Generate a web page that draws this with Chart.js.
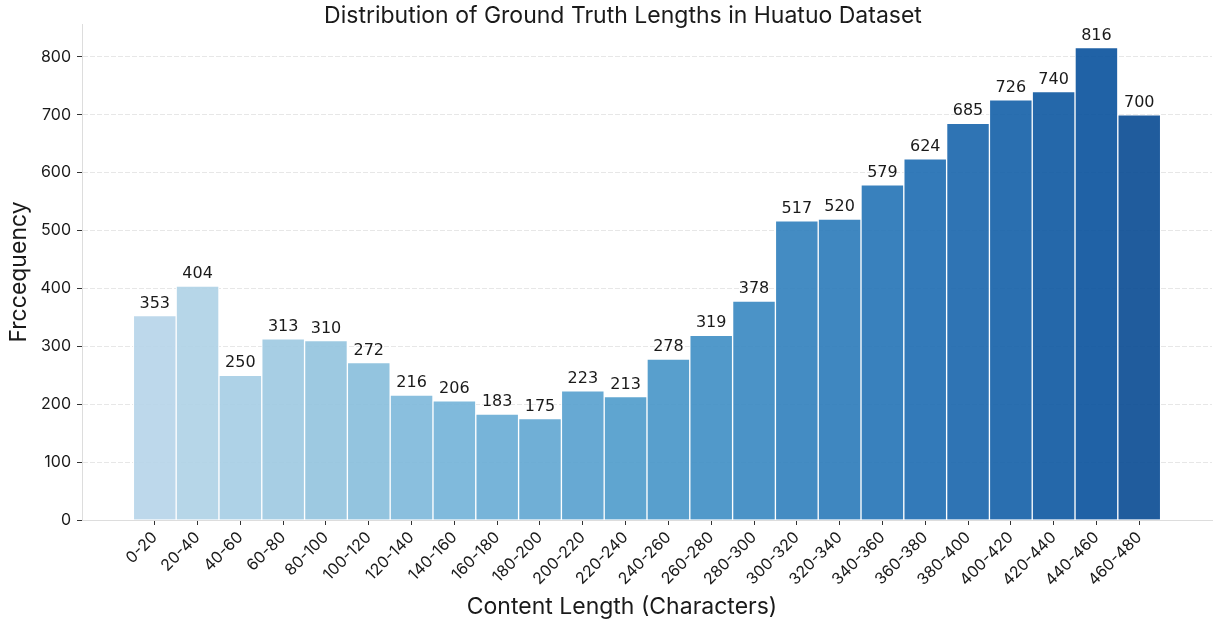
<!DOCTYPE html>
<html>
<head>
<meta charset="utf-8">
<script src="https://cdn.jsdelivr.net/npm/chart.js@4.4.1/dist/chart.umd.min.js"></script>
<style>
  html, body { margin:0; padding:0; background:#fff; }
</style>
</head>
<body>
<canvas id="chart" width="1214" height="625"></canvas>
<script>
/* Histograma de longitudes (Huatuo) */
const binLabels = ['0-20','20-40','40-60','60-80','80-100','100-120','120-140','140-160',
  '160-180','180-200','200-220','220-240','240-260','260-280','280-300','300-320',
  '320-340','340-360','360-380','380-400','400-420','420-440','440-460','460-480'];
const counts = [353,404,250,313,310,272,216,206,183,175,223,213,278,319,378,517,
  520,579,624,685,726,740,816,700];
const yTicks = [0,100,200,300,400,500,600,700,800];

const chartTitle = 'Distribution of Ground Truth Lengths in Huatuo Dataset';
const xTitle = 'Content Length (Characters)';
const yTitle = 'Frccequency';

// colormap "Blues" (anclas), muestreado de 0.3 a 0.9 con alpha 0.9
const bluesStops = [[247,251,255],[222,235,247],[198,219,239],[158,202,225],[107,174,214],
  [66,146,198],[33,113,181],[8,81,156],[8,48,107]];
const blues = (t)=>{
  const p = t*8, i = Math.min(7, Math.floor(p)), f = p - i;
  const a = bluesStops[i], b = bluesStops[i+1];
  const c = a.map((v,k)=> Math.round(v + (b[k]-v)*f));
  return `rgba(${c[0]},${c[1]},${c[2]},0.9)`;
};
const barColors = counts.map((_,i)=> blues(0.3 + 0.6*i/(counts.length-1)));

const textColor = '#1a1a1a';

const labelsPlugin = {
  id:'labels',
  afterDraw(chart){
    const {ctx} = chart;
    const meta = chart.getDatasetMeta(0);
    ctx.save();
    ctx.fillStyle = textColor;
    ctx.font = '16px "DejaVu Sans"';
    ctx.textAlign = 'center';
    ctx.textBaseline = 'alphabetic';
    meta.data.forEach((bar,i)=> ctx.fillText(String(counts[i]), bar.x, bar.y - 8));
    // título y eje x centrados como en la figura
    ctx.font = '23px Inter';
    ctx.textBaseline = 'middle';
    ctx.fillText(chartTitle, 623, 16);
    ctx.fillText(xTitle, 622, 607);
    ctx.restore();
  }
};

new Chart(document.getElementById('chart'), {
  type:'bar',
  data:{
    datasets:[{
      data: counts.map((v,i)=> ({x:i, y:v})),
      backgroundColor: barColors,
      borderColor:'#ffffff',
      borderWidth:1,
      borderSkipped:'bottom',
      barPercentage:1,
      categoryPercentage:1
    }]
  },
  options:{
    responsive:false,
    animation:false,
    layout:{ padding:{ top:24, right:2, left:0, bottom:0 } },
    plugins:{ legend:{display:false}, tooltip:{enabled:false}, title:{display:false} },
    scales:{
      x:{
        type:'linear', min:-1.7, max:24.7, offset:false,
        afterBuildTicks:(s)=>{ s.ticks = binLabels.map((_,i)=> ({value:i})); },
        afterFit:(s)=>{ s.height = 105; },
        grid:{ offset:false, drawOnChartArea:false, tickLength:5, tickColor:'#333', tickWidth:1 },
        border:{ color:'#dddddd', width:1 },
        ticks:{ autoSkip:false, maxRotation:45, minRotation:45, padding:3,
          color:textColor, font:{family:'Inter', size:16},
          callback:(v)=> binLabels[v] }
      },
      y:{
        min:0, max:856.8, z:1,
        afterBuildTicks:(s)=>{ s.ticks = yTicks.map(v=> ({value:v})); },
        afterFit:(s)=>{ s.width = 82; },
        grid:{ color:'rgba(176,176,176,0.3)', lineWidth:1, tickColor:'#333', tickLength:5 },
        border:{ color:'#dddddd', width:1, dash:[5,2] },
        ticks:{ padding:6, color:textColor, font:{family:'Inter', size:16} },
        title:{ display:true, text:yTitle, color:textColor, font:{family:'Inter', size:23}, padding:{top:5} }
      }
    }
  },
  plugins:[labelsPlugin]
});
</script>
</body>
</html>
